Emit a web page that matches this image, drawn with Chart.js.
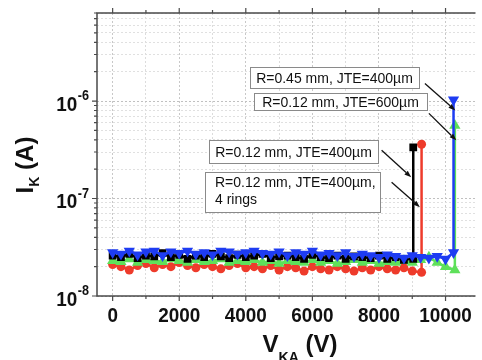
<!DOCTYPE html>
<html>
<head>
<meta charset="utf-8">
<title>I-V</title>
<script src="https://cdn.jsdelivr.net/npm/chart.js@4.4.1/dist/chart.umd.min.js"></script>
<style>
	html, body { margin: 0; padding: 0; background: #fff; }
	canvas { display: block; }
</style>
</head>
<body>
<canvas id="ivChart" width="482" height="360"></canvas>
<script>
	// reverse voltage V_KA (V) and cathode current I_K (nA)
	var vBlack = [0,250,500,750,1000,1250,1500,1750,2000,2250,2500,2750,3000,3250,3500,3750,4000,4250,4500,4750,5000,5250,5500,5750,6000,6250,6500,6750,7000,7250,7500,7750,8000,8250,8500,8750,9030,9030];
	var iBlack = [26,25,27,24.5,26,25.5,27.5,25,26.5,24,26,25,27,25.5,24.5,26.5,25,26,27,24.5,25.5,26,25,24,26.5,25,24.5,26,24,25.5,25,24.5,26,24,25,23.5,24,335];

	var vRed = [0,250,500,750,1000,1250,1500,1750,2000,2250,2500,2750,3000,3250,3500,3750,4000,4250,4500,4750,5000,5250,5500,5750,6000,6250,6500,6750,7000,7250,7500,7750,8000,8250,8500,8750,9000,9280,9280];
	var iRed = [21,20,18.5,20.5,21.5,19.5,21,20,22,20.5,19.5,21,20,19,20.5,21.5,19.5,20,19,20.5,18.5,20,19.5,18,20,19,18.5,20,19,18,19.5,18.5,20,19,18.5,19.5,18,17.5,360];

	var vGreen = [0,250,500,750,1000,1250,1500,1750,2000,2250,2500,2750,3000,3250,3500,3750,4000,4250,4500,4750,5000,5250,5500,5750,6000,6250,6500,6750,7000,7250,7500,7750,8000,8250,8500,8750,9000,9250,9500,9750,10000,10280,10280];
	var iGreen = [23,22.5,24,22,23.5,23,22.5,24,23,22,23.5,22.5,23,24,22,23,22.5,23.5,22,23,21.5,23,22.5,22,23.5,22,23,21.5,22.5,23.5,22,23,21.5,22.5,22,23,22,23.5,25,22,20,18.5,560];

	var vBlue = [0,250,500,750,1000,1250,1500,1750,2000,2250,2500,2750,3000,3250,3500,3750,4000,4250,4500,4750,5000,5250,5500,5750,6000,6250,6500,6750,7000,7250,7500,7750,8000,8250,8500,8750,9000,9250,9500,9750,10000,10240,10240];
	var iBlue = [28,27,29,26.5,28.5,29,26,28.5,27.5,29,27,28,26.5,29,28.5,27,28,29,27.5,27,28.5,26,28,27,29,26.5,27.5,26,28,25.5,27,26,25,26.5,25.5,24.5,26,25,24.5,25.5,24,28,1030];

	var xTickValues = [0, 2000, 4000, 6000, 8000, 10000];
	var xTickLabels = ['0', '2000', '4000', '6000', '8000', '10000'];
	var yTickValues = [1e-8, 1e-7, 1e-6];
	var yTickExps = ['-8', '-7', '-6'];

	var noteTexts = [
		['R=0.45 mm, JTE=400\u00b5m'],
		['R=0.12 mm, JTE=600\u00b5m'],
		['R=0.12 mm, JTE=400\u00b5m'],
		['R=0.12 mm, JTE=400\u00b5m,', '4 rings']
	];
	// boxes and arrows in data units (V, A)
	var notePos = [
		{ box: [4130, 2.26e-6, 9200, 1.35e-6], from: [9380, 1.51e-6], to: [10295, 8.0e-7] },
		{ box: [4250, 1.20e-6, 9440, 8.0e-7], from: [9500, 7.47e-7], to: [10325, 3.95e-7] },
		{ box: [2890, 3.95e-7, 7965, 2.3e-7], from: [8080, 3.12e-7], to: [8970, 1.65e-7] },
		{ box: [2770, 1.86e-7, 8020, 7.24e-8], from: [8380, 1.47e-7], to: [9230, 8.15e-8] }
	];

	var FAMILY = '"Liberation Sans", Arial, sans-serif';
	var TICK_FONT = 'bold 21px ' + FAMILY;
	var SUP_FONT = 'bold 14px ' + FAMILY;
	var TITLE_FONT = 'bold 24px ' + FAMILY;
	var SUB_FONT = 'bold 14px ' + FAMILY;
	var NOTE_FONT = '14px ' + FAMILY;

	function toPoints(vs, is)
	{
		var pts = [];
		for (var k = 0; k < vs.length; k++) { pts.push({ x: vs[k], y: is[k] * 1e-9 }); }
		return pts;
	}

	function series(vs, is, color, style, rot, r)
	{
		return {
			data: toPoints(vs, is),
			showLine: true,
			borderColor: color,
			backgroundColor: color,
			borderWidth: 2.5,
			tension: 0,
			pointStyle: style,
			pointRotation: rot,
			pointRadius: r,
			pointBorderWidth: 0,
			pointBackgroundColor: color
		};
	}

	function narrow(ctx, s, x, y, font, align)
	{
		ctx.save();
		ctx.font = font;
		ctx.textAlign = align;
		ctx.translate(x, y);
		ctx.scale(0.9, 1);
		ctx.fillText(s, 0, 0);
		ctx.restore();
	}

	function arrow(ctx, xa, ya, xb, yb)
	{
		var ang = Math.atan2(yb - ya, xb - xa), c = Math.cos(ang), s = Math.sin(ang), L = 7, W = 2.5;
		ctx.strokeStyle = '#111';
		ctx.fillStyle = '#111';
		ctx.lineWidth = 1.3;
		ctx.beginPath();
		ctx.moveTo(xa, ya);
		ctx.lineTo(xb - L * c, yb - L * s);
		ctx.stroke();
		ctx.beginPath();
		ctx.moveTo(xb, yb);
		ctx.lineTo(xb - L * c + W * s, yb - L * s - W * c);
		ctx.lineTo(xb - L * c - W * s, yb - L * s + W * c);
		ctx.closePath();
		ctx.fill();
	}

	// title with a subscript part: [main, sub, rest]
	function subTitle(ctx, parts, cx, y, subDrop)
	{
		ctx.save();
		ctx.textAlign = 'left';
		ctx.font = TITLE_FONT;
		var w0 = ctx.measureText(parts[0]).width, w2 = ctx.measureText(parts[2]).width;
		ctx.font = SUB_FONT;
		var w1 = ctx.measureText(parts[1]).width;
		var x = cx - (w0 + w1 + w2) / 2;
		ctx.font = TITLE_FONT;
		ctx.fillText(parts[0], x, y);
		ctx.font = SUB_FONT;
		ctx.fillText(parts[1], x + w0, y + subDrop);
		ctx.font = TITLE_FONT;
		ctx.fillText(parts[2], x + w0 + w1, y);
		ctx.restore();
	}

	var decorations = {
		id: 'decorations',
		afterDatasetsDraw: function (chart) {
			var ctx = chart.ctx, a = chart.chartArea, sx = chart.scales.x, sy = chart.scales.y;
			ctx.save();

			// frame, the right side runs off the picture
			ctx.strokeStyle = '#4a4a4a';
			ctx.lineWidth = 1.5;
			ctx.beginPath();
			ctx.moveTo(a.right, a.top);
			ctx.lineTo(a.left, a.top);
			ctx.lineTo(a.left, a.bottom);
			ctx.lineTo(a.right, a.bottom);
			ctx.stroke();

			// tick marks
			ctx.lineWidth = 1.2;
			ctx.beginPath();
			sx.ticks.forEach(function (t) {
				var px = sx.getPixelForValue(t.value), len = t.value % 2000 === 0 ? 5 : 3;
				ctx.moveTo(px, a.bottom); ctx.lineTo(px, a.bottom + len);
				ctx.moveTo(px, a.top); ctx.lineTo(px, a.top - len);
			});
			sy.ticks.forEach(function (t) {
				var py = sy.getPixelForValue(t.value), len = t.major ? 5 : 3;
				ctx.moveTo(a.left, py); ctx.lineTo(a.left - len, py);
			});
			ctx.stroke();

			// tick labels
			ctx.fillStyle = '#111';
			ctx.textBaseline = 'alphabetic';
			xTickValues.forEach(function (v, k) {
				narrow(ctx, xTickLabels[k], sx.getPixelForValue(v), a.bottom + 26, TICK_FONT, 'center');
			});
			yTickValues.forEach(function (v, k) {
				var py = sy.getPixelForValue(v);
				ctx.font = SUP_FONT;
				var we = ctx.measureText(yTickExps[k]).width * 0.9;
				var right = a.left - 8;
				narrow(ctx, yTickExps[k], right - we, py - 1, SUP_FONT, 'left');
				narrow(ctx, '10', right - we - 0.5, py + 9.5, TICK_FONT, 'right');
			});

			// axis titles
			subTitle(ctx, ['V', 'KA', ' (V)'], 300, 352, 10);
			ctx.save();
			ctx.translate(33, 165);
			ctx.rotate(-Math.PI / 2);
			subTitle(ctx, ['I', 'K', ' (A)'], 0, 0, 6);
			ctx.restore();

			// labelled boxes with arrows
			notePos.forEach(function (n, k) {
				var x0 = Math.round(sx.getPixelForValue(n.box[0])), y0 = Math.round(sy.getPixelForValue(n.box[1]));
				var x1 = Math.round(sx.getPixelForValue(n.box[2])), y1 = Math.round(sy.getPixelForValue(n.box[3]));
				ctx.fillStyle = '#fff';
				ctx.fillRect(x0, y0, x1 - x0, y1 - y0);
				ctx.strokeStyle = '#8a8a8a';
				ctx.lineWidth = 1;
				ctx.strokeRect(x0 + 0.5, y0 + 0.5, x1 - x0, y1 - y0);
				ctx.fillStyle = '#111';
				ctx.font = NOTE_FONT;
				var lines = noteTexts[k];
				if (lines.length === 1) {
					ctx.textAlign = 'center';
					ctx.fillText(lines[0], (x0 + x1) / 2, (y0 + y1) / 2 + 5);
				} else {
					ctx.textAlign = 'left';
					lines.forEach(function (s, j) { ctx.fillText(s, x0 + 10, y0 + 15 + 17 * j); });
				}
				arrow(ctx, sx.getPixelForValue(n.from[0]), sy.getPixelForValue(n.from[1]),
					sx.getPixelForValue(n.to[0]), sy.getPixelForValue(n.to[1]));
			});

			ctx.restore();
		}
	};

	var ivChart = new Chart(document.getElementById('ivChart'), {
		type: 'scatter',
		data: {
			datasets: [
				series(vBlue, iBlue, '#1e3cf2', 'triangle', 180, 6.5),
				series(vBlack, iBlack, '#000000', 'rect', 0, 5.5),
				series(vGreen, iGreen, '#5ee05a', 'triangle', 0, 6.5),
				series(vRed, iRed, '#ee3b2b', 'circle', 0, 4.5)
			]
		},
		options: {
			responsive: false,
			animation: false,
			layout: { padding: { left: 0, top: 13, right: 0, bottom: 0 } },
			plugins: { legend: { display: false }, tooltip: { enabled: false } },
			scales: {
				x: {
					type: 'linear',
					min: -470,
					max: 10900,
					afterBuildTicks: function (s) {
						var t = [];
						for (var v = 0; v <= 10000; v += 1000) { t.push({ value: v }); }
						s.ticks = t;
					},
					afterFit: function (s) { s.height = 64; },
					ticks: { display: false },
					grid: {
						color: function (c) { return c.tick && c.tick.value % 2000 === 0 ? '#c8c8c8' : '#dcdcdc'; },
						lineWidth: 1,
						drawTicks: false
					},
					border: { display: false, dash: [2, 2] }
				},
				y: {
					type: 'logarithmic',
					min: 1e-8,
					max: 8e-6,
					afterBuildTicks: function (s) {
						var t = [];
						[1e-8, 1e-7, 1e-6].forEach(function (d) {
							for (var m = 1; m <= 9; m++) {
								if (m * d <= 8.0001e-6) { t.push({ value: m * d, major: m === 1 }); }
							}
						});
						s.ticks = t;
					},
					afterFit: function (s) { s.width = 97; },
					ticks: { display: false },
					grid: {
						color: function (c) { return c.tick && c.tick.major ? '#c0c0c0' : '#e0e0e0'; },
						lineWidth: 1,
						drawTicks: false
					},
					border: { display: false, dash: [2, 2] }
				}
			}
		},
		plugins: [decorations]
	});
</script>
</body>
</html>
